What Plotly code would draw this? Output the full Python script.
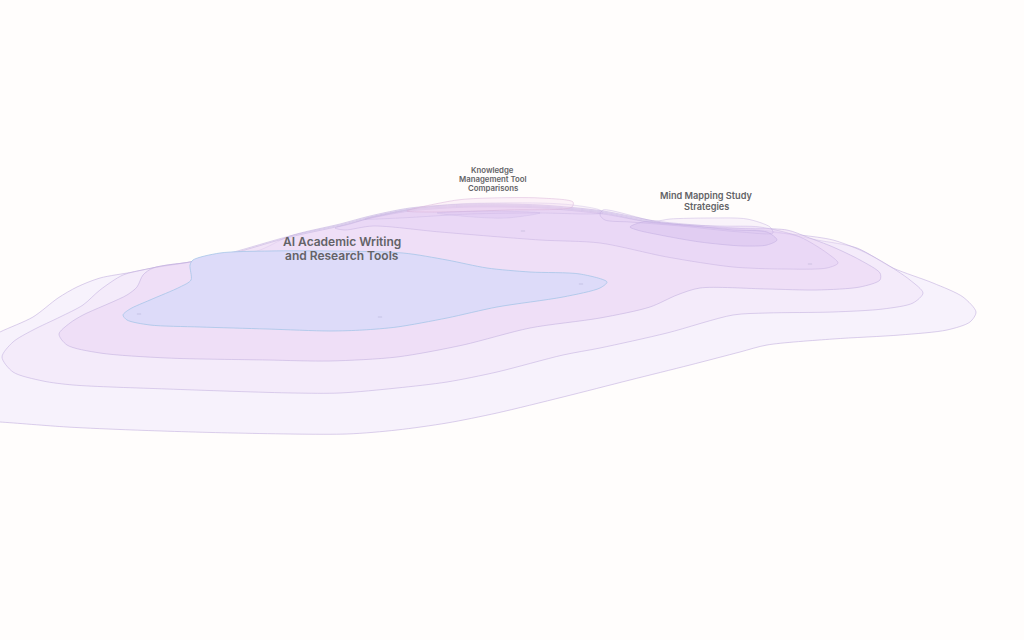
import plotly.graph_objects as go

# Contour outlines (x, y in picture units)
level1_x = [-20, 0, 33, 58, 77, 100, 133, 167, 190, 213, 257, 290, 340, 370, 410, 470, 540, 603, 655, 720, 770, 817, 857, 893, 933, 963, 976, 970, 947, 900, 833, 767, 740, 690, 630, 563, 497, 447, 397, 347, 233, 133, 67, 0, -20]
level1_y = [343, 332, 317, 298, 287, 278, 272, 265, 262, 255, 251, 236, 224, 216, 208, 204, 205, 211, 221, 227, 231, 240, 248, 268, 283, 297, 312, 322, 330, 335, 339, 345, 352, 365, 380, 397, 413, 423, 430, 434, 433, 430, 427, 422, 421]

level2_x = [2, 13, 33, 60, 83, 100, 123, 147, 190, 230, 290, 340, 370, 410, 470, 540, 603, 655, 720, 800, 833, 860, 883, 910, 923, 913, 883, 833, 767, 733, 667, 600, 563, 497, 447, 397, 340, 293, 167, 73, 43, 13]
level2_y = [357, 342, 330, 317, 305, 290, 275, 269, 262, 253, 236, 225, 217, 209, 205, 206, 212, 222, 228, 235, 240, 250, 262, 280, 293, 303, 309, 312, 313, 315, 333, 348, 355, 372, 382, 388, 393, 393, 389, 385, 381, 372]

level3_x = [59, 70, 83, 127, 137, 143, 153, 190, 230, 290, 340, 370, 410, 470, 540, 603, 655, 720, 787, 807, 833, 860, 880, 880, 860, 817, 767, 700, 677, 650, 600, 530, 463, 397, 330, 267, 167, 100, 67]
level3_y = [334, 323, 315, 295, 287, 275, 268, 262, 254, 237, 226, 218, 210, 206, 207, 213, 223, 228, 230, 237, 247, 260, 273, 280, 287, 290, 289, 288, 295, 307, 318, 328, 345, 357, 361, 360, 358, 353, 345]

level4_x = [335, 350, 367, 410, 470, 540, 603, 655, 720, 760, 800, 827, 838, 827, 783, 733, 667, 600, 540, 440, 373, 345]
level4_y = [228, 224, 219, 211, 207, 208, 214, 223, 226, 227, 237, 253, 263, 268, 269, 267, 257, 243, 240, 232, 226, 230]

ridge_left_x = [365, 407, 457, 540, 573, 600, 603, 590, 540, 470, 400]
ridge_left_y = [219, 210, 204, 203, 205, 210, 213, 214, 213, 214, 218]

knowledge_outer_x = [407, 457, 490, 540, 573, 572, 507, 440]
knowledge_outer_y = [211, 200, 198, 198, 202, 207, 210, 212]

knowledge_inner_x = [437, 490, 540, 507, 473]
knowledge_inner_y = [213, 211, 213, 218, 217]

mind_outer_x = [600, 603, 655, 670, 710, 747, 770, 773, 740, 680, 630, 605]
mind_outer_y = [215, 210, 221, 219, 218, 219, 227, 233, 232, 226, 222, 220]

mind_inner_x = [630, 643, 683, 733, 767, 777, 767, 743, 700, 660, 637]
mind_inner_y = [227, 222, 225, 230, 232, 240, 245, 246, 242, 235, 230]

blue_x = [123, 130, 150, 180, 191, 190, 193, 220, 270, 330, 403, 447, 487, 530, 580, 607, 600, 563, 497, 447, 397, 363, 330, 267, 200, 150, 127]
blue_y = [315, 309, 300, 287, 280, 265, 260, 253, 251, 251, 253, 260, 268, 272, 274, 282, 288, 297, 307, 318, 327, 330, 331, 329, 327, 325, 320]

label_x = [342, 342, 492.5, 492.5, 492.5, 706, 706]
label_y = [241, 255, 169.5, 178.5, 187.5, 195, 206]
label_text = ["AI Academic Writing", "and Research Tools",
              "Knowledge", "Management Tool", "Comparisons",
              "Mind Mapping Study", "Strategies"]
label_size = [12, 12, 7.8, 7.8, 7.8, 9.2, 9.2]

speck_x = [139, 380, 581, 523, 810]
speck_y = [314, 317, 284, 231, 264]

regions = [
    (level1_x, level1_y, "rgba(240,232,251,0.50)", "rgba(190,170,220,0.70)"),
    (level2_x, level2_y, "rgba(240,226,248,0.40)", "rgba(190,170,220,0.65)"),
    (level3_x, level3_y, "rgba(233,212,244,0.50)", "rgba(190,170,220,0.65)"),
    (level4_x, level4_y, "rgba(228,204,244,0.40)", "rgba(190,170,220,0.55)"),
    (ridge_left_x, ridge_left_y, "rgba(225,200,240,0.20)", "rgba(190,170,220,0.40)"),
    (knowledge_outer_x, knowledge_outer_y, "rgba(245,215,240,0.30)", "rgba(215,175,215,0.60)"),
    (knowledge_inner_x, knowledge_inner_y, "rgba(215,190,240,0.30)", "rgba(190,170,220,0.30)"),
    (mind_outer_x, mind_outer_y, "rgba(225,205,245,0.20)", "rgba(190,170,220,0.55)"),
    (mind_inner_x, mind_inner_y, "rgba(212,190,238,0.40)", "rgba(185,165,220,0.55)"),
    (blue_x, blue_y, "rgb(221,219,249)", "rgba(160,195,230,0.9)"),
]

fig = go.Figure()
for xs, ys, fill, line in regions:
    fig.add_trace(go.Scatter(
        x=xs + xs[:1], y=ys + ys[:1], mode="lines", fill="toself",
        fillcolor=fill, line=dict(color=line, width=0.8, shape="spline", smoothing=0.8),
        hoverinfo="skip", showlegend=False,
    ))

fig.add_trace(go.Scatter(
    x=speck_x, y=speck_y, mode="markers",
    marker=dict(symbol="line-ew", size=3, line=dict(color="rgba(150,150,185,0.55)", width=0.6)),
    hoverinfo="skip", showlegend=False,
))

for x, y, t, s in zip(label_x, label_y, label_text, label_size):
    fig.add_annotation(x=x, y=y, text=t, showarrow=False, xanchor="center", yanchor="middle",
                       font=dict(family="Inter, sans-serif", size=s, color="#636367", weight=600))

fig.update_layout(
    width=1024, height=640, margin=dict(l=0, r=0, t=0, b=0),
    paper_bgcolor="#fffdfc", plot_bgcolor="#fffdfc",
    xaxis=dict(range=[0, 1024], visible=False, fixedrange=True),
    yaxis=dict(range=[640, 0], visible=False, fixedrange=True),
)
fig.write_html("out.html", config=dict(displayModeBar=False),
               post_script="document.body.style.margin='0';document.body.style.background='#fffdfc';document.body.style.overflow='hidden';")
